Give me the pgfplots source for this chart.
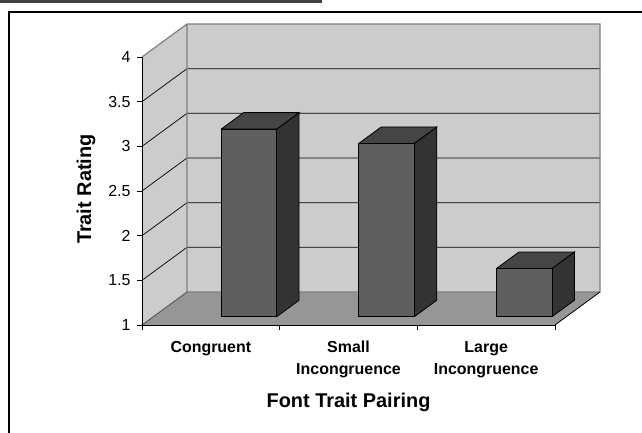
\documentclass[border=0pt]{standalone}
\usepackage{fontspec}
\setmainfont{Liberation Sans}
\usepackage{pgfplots}
\usepackage{pgfplotstable}
\pgfplotsset{compat=1.18}
\definecolor{wall}{HTML}{CCCCCC}
\definecolor{floorc}{HTML}{969696}
\definecolor{edgec}{HTML}{808080}
\definecolor{barfront}{HTML}{5F5F5F}
\definecolor{bartop}{HTML}{454545}
\definecolor{barside}{HTML}{333333}
\definecolor{topbar}{HTML}{404040}

\pgfplotstableread{
idx value
0 3.10
1 2.94
2 1.54
}\bardata

\begin{document}
\begin{tikzpicture}
\path[use as bounding box] (-142bp,-108bp) rectangle (500bp,325bp);
\fill[topbar] (-142bp,322bp) rectangle (180bp,325bp);
\draw[black, line width=1.2bp] (500bp,313bp) -- (-133bp,313bp) -- (-133bp,-110bp);
\begin{axis}[
  at={(0,0)}, anchor=south west,
  scale only axis, width=413bp, height=268bp,
  xmin=0, xmax=3, ymin=1, ymax=4,
  clip=false, axis on top,
  axis x line*=bottom, axis y line*=left,
  axis line style={black, line width=0.8bp},
  xtick={0,1,2,3}, xticklabels={},
  extra x ticks={0.5,1.5,2.5},
  extra x tick labels={{\strut Congruent}, {\strut Small\\Incongruence}, {\strut Large\\Incongruence}},
  extra x tick style={major tick length=0pt},
  ytick={1,1.5,2,2.5,3,3.5,4},
  tick align=outside, major tick length=5bp,
  tick style={black, line width=0.8bp},
  /pgf/number format/assume math mode=true,
  yticklabel style={font=\fontsize{16}{19}\selectfont, xshift=-3bp},
  xticklabel style={font=\fontsize{16}{22}\selectfont\bfseries, align=center, yshift=-9bp},
  xlabel={Font Trait Pairing}, ylabel={Trait Rating},
  label style={font=\fontsize{20}{24}\selectfont\bfseries},
  xlabel style={at={(axis description cs:0.5,-0.29)}, anchor=center},
  ylabel style={at={(axis description cs:-0.1356,0.507)}, anchor=center},
]
% side wall, back wall, floor
\addplot[fill=wall, draw=none] coordinates {(0,1) (0.3269,1.3694) (0.3269,4.3694) (0,4)};
\addplot[fill=wall, draw=none] coordinates {(0.3269,1.3694) (3.3269,1.3694) (3.3269,4.3694) (0.3269,4.3694)};
\addplot[fill=floorc, draw=none] coordinates {(0,1) (3,1) (3.3269,1.3694) (0.3269,1.3694)};
% gridlines
\addplot[black, line width=0.7bp] coordinates {(0,1.5) (0.3269,1.8694) (3.3269,1.8694)};
\addplot[black, line width=0.7bp] coordinates {(0,2) (0.3269,2.3694) (3.3269,2.3694)};
\addplot[black, line width=0.7bp] coordinates {(0,2.5) (0.3269,2.8694) (3.3269,2.8694)};
\addplot[black, line width=0.7bp] coordinates {(0,3) (0.3269,3.3694) (3.3269,3.3694)};
\addplot[black, line width=0.7bp] coordinates {(0,3.5) (0.3269,3.8694) (3.3269,3.8694)};
% wall borders
\addplot[edgec, line width=1.2bp] coordinates {(0,4) (0.3269,4.3694) (3.3269,4.3694) (3.3269,1.3694) (0.3269,1.3694) (0.3269,4.3694)};
\addplot[edgec!60!black, line width=0.8bp] coordinates {(0,1) (0.3269,1.3694)};
\addplot[black, line width=0.8bp] coordinates {(3,1) (3.3269,1.3694)};
% bars
\pgfplotsinvokeforeach{0,1,2}{
  \pgfplotstablegetelem{#1}{value}\of\bardata
  \pgfmathsetmacro\ya{1.0924}
  \pgfmathsetmacro\yb{\pgfplotsretval+0.0924}
  \pgfmathsetmacro\yc{\pgfplotsretval+0.0924+0.1847}
  \pgfmathsetmacro\yd{1.0924+0.1847}
  \pgfmathsetmacro\xa{#1+0.5747}
  \pgfmathsetmacro\xb{#1+0.9777}
  \pgfmathsetmacro\xc{#1+0.5747+0.1634}
  \pgfmathsetmacro\xd{#1+0.9777+0.1634}
  \edef\temp{%
    \noexpand\addplot[fill=barside, draw=black, line width=0.8bp] coordinates {(\xb,\ya) (\xd,\yd) (\xd,\yc) (\xb,\yb) (\xb,\ya)};
    \noexpand\addplot[fill=bartop, draw=black, line width=0.8bp] coordinates {(\xa,\yb) (\xb,\yb) (\xd,\yc) (\xc,\yc) (\xa,\yb)};
    \noexpand\addplot[fill=barfront, draw=black, line width=0.8bp] coordinates {(\xa,\ya) (\xb,\ya) (\xb,\yb) (\xa,\yb) (\xa,\ya)};
  }\temp
}
\end{axis}
\end{tikzpicture}
\end{document}
